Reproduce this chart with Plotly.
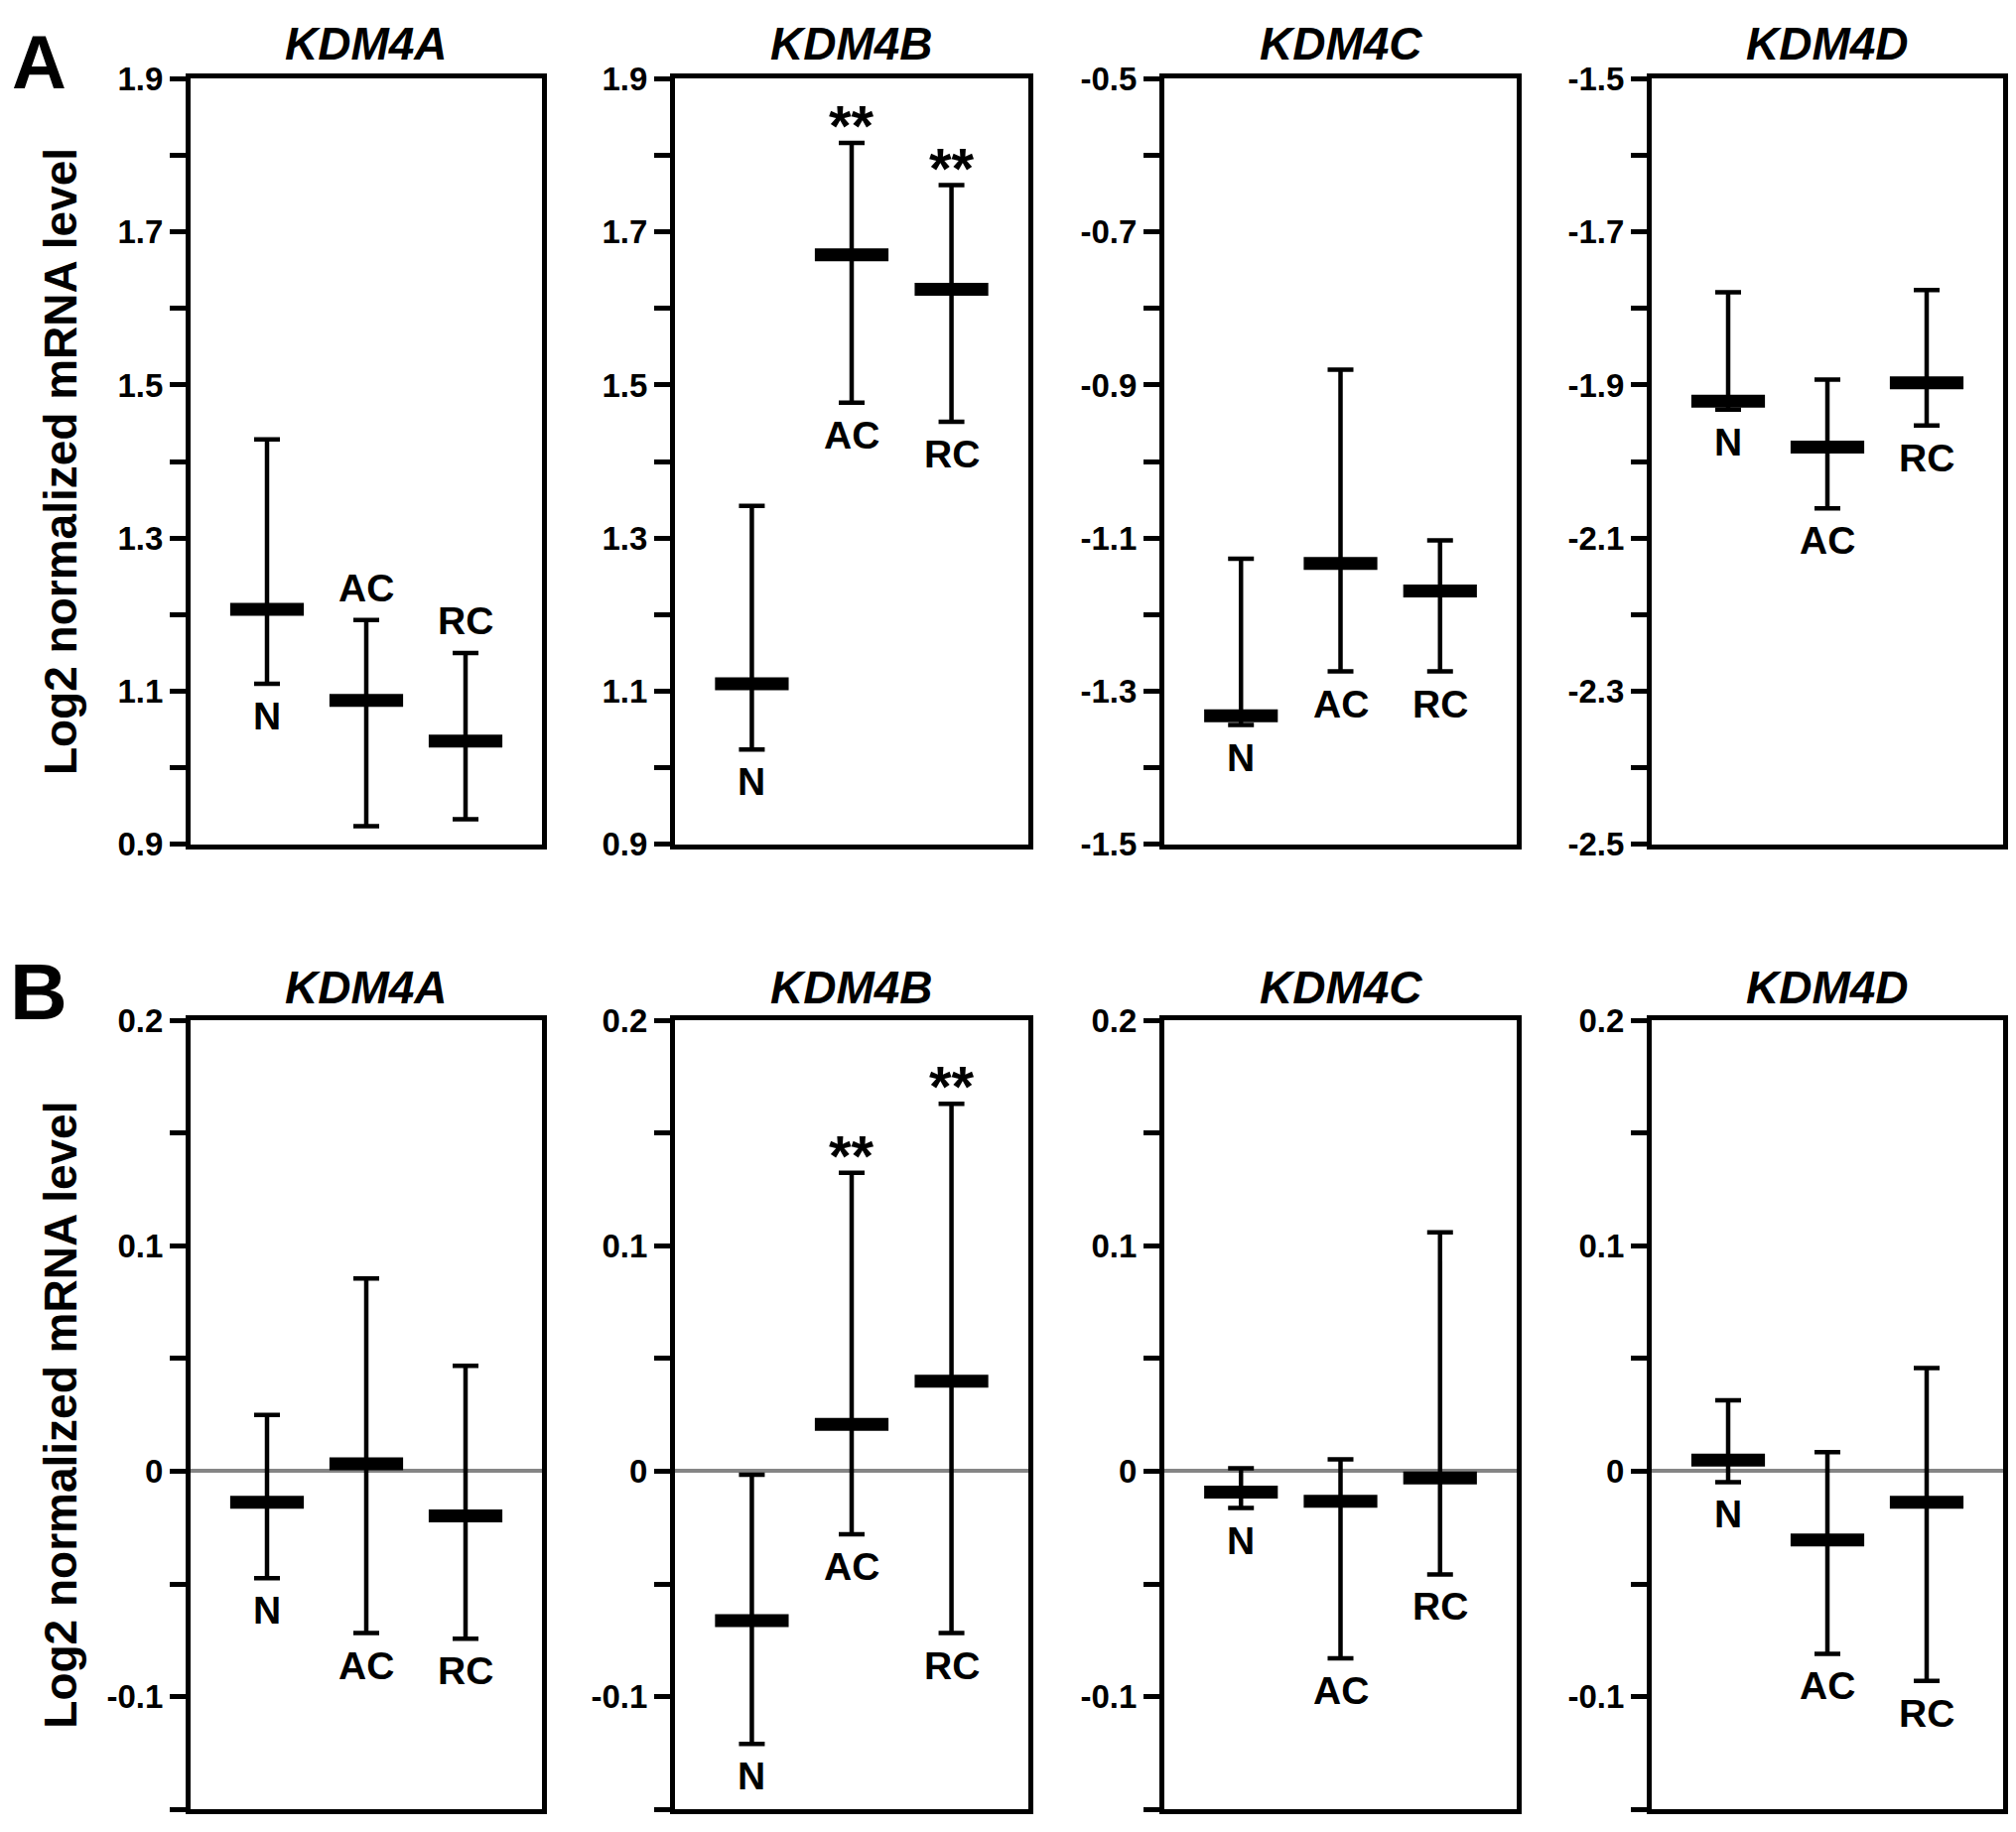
import plotly.graph_objects as go

# ---------------- data ----------------
genes = ["KDM4A", "KDM4B", "KDM4C", "KDM4D"]
groups = ["N", "AC", "RC"]

# Panel A (top row)
a_mean = [[1.207, 1.088, 1.035], [1.110, 1.670, 1.625], [-1.332, -1.133, -1.169], [-1.921, -1.981, -1.897]]
a_upper = [[1.429, 1.193, 1.150], [1.342, 1.816, 1.761], [-1.127, -0.880, -1.103], [-1.779, -1.893, -1.776]]
a_lower = [[1.110, 0.924, 0.933], [1.024, 1.477, 1.452], [-1.344, -1.274, -1.274], [-1.932, -2.061, -1.953]]
a_ranges = [[0.9, 1.9], [0.9, 1.9], [-1.5, -0.5], [-2.5, -1.5]]
a_tickvals = [[round(lo + 0.1 * i, 2) for i in range(11)] for lo, hi in a_ranges]
a_label_side = [["below", "above", "above"], ["below", "below", "below"],
                ["below", "below", "below"], ["below", "below", "below"]]
a_sig = [["", "", ""], ["", "**", "**"], ["", "", ""], ["", "", ""]]

# Panel B (bottom row)
b_mean = [[-0.0138, 0.0033, -0.0198], [-0.0663, 0.0208, 0.0400], [-0.0093, -0.0133, -0.0030], [0.0050, -0.0305, -0.0138]]
b_upper = [[0.0250, 0.0855, 0.0468], [-0.0015, 0.1325, 0.1630], [0.0013, 0.0053, 0.1060], [0.0315, 0.0085, 0.0458]]
b_lower = [[-0.0475, -0.0718, -0.0743], [-0.1210, -0.0280, -0.0718], [-0.0163, -0.0830, -0.0458], [-0.0048, -0.0810, -0.0930]]
b_ranges = [[-0.15, 0.2]] * 4
b_tickvals = [[-0.15, -0.1, -0.05, 0, 0.05, 0.1, 0.15, 0.2]] * 4
b_ticktext = [["", "-0.1", "", "0", "", "0.1", "", "0.2"]] * 4
b_label_side = [["below"] * 3] * 4
b_sig = [["", "", ""], ["", "**", "**"], ["", "", ""], ["", "", ""]]

a_ticktext = [[f"{v:.1f}" if i % 2 == 0 else "" for i, v in enumerate(tv)] for tv in a_tickvals]

rows = [
    dict(mean=a_mean, upper=a_upper, lower=a_lower, ranges=a_ranges, tv=a_tickvals, tt=a_ticktext,
         side=a_label_side, sig=a_sig, zero=False),
    dict(mean=b_mean, upper=b_upper, lower=b_lower, ranges=b_ranges, tv=b_tickvals, tt=b_ticktext,
         side=b_label_side, sig=b_sig, zero=True),
]

# ---------------- layout ----------------
W, H = 2031, 1846
FONT = "Liberation Sans, Arial, Helvetica, sans-serif"


def yc(px):
    # vertical page-position correction for the capture
    return (px - 17.5) / 0.983


xdom_px = [(192, 546), (680, 1036), (1173, 1528), (1664, 2018)]
ydom_px = [(yc(79), yc(853)), (yc(1031), 1842)]
title_y_px = [yc(44), yc(998)]
letters = ["A", "B"]

fig = go.Figure()
annotations = []
layout = dict(width=W, height=H, margin=dict(l=0, r=0, t=0, b=0),
              plot_bgcolor="white", paper_bgcolor="white", showlegend=False,
              font=dict(family=FONT, color="black"))

for r, row in enumerate(rows):
    for c in range(4):
        k = r * 4 + c + 1
        xa = "x" if k == 1 else f"x{k}"
        ya = "y" if k == 1 else f"y{k}"
        mean = row["mean"][c]
        up = row["upper"][c]
        lo = row["lower"][c]
        xs = list(range(len(groups)))
        fig.add_trace(go.Scatter(
            x=xs, y=mean, mode="markers", xaxis=xa, yaxis=ya, showlegend=False,
            cliponaxis=False,
            marker=dict(symbol="line-ew", size=53, color="black",
                        line=dict(width=13, color="black")),
            error_y=dict(type="data", symmetric=False,
                         array=[u - m for u, m in zip(up, mean)],
                         arrayminus=[m - l for m, l in zip(mean, lo)],
                         color="black", thickness=4.5, width=13),
        ))
        x0, x1 = xdom_px[c]
        y0, y1 = ydom_px[r]
        layout[f"xaxis{'' if k == 1 else k}"] = dict(
            domain=[x0 / W, x1 / W], range=[-0.77, 2.77], anchor=ya,
            showline=True, mirror=True, linewidth=5, linecolor="black",
            showticklabels=False, ticks="", showgrid=False, zeroline=False, fixedrange=True)
        layout[f"yaxis{'' if k == 1 else k}"] = dict(
            domain=[1 - y1 / H, 1 - y0 / H], range=row["ranges"][c], anchor=xa,
            showline=True, mirror=True, linewidth=5, linecolor="black",
            tickmode="array", tickvals=row["tv"][c], ticktext=row["tt"][c],
            ticks="outside", ticklen=16, tickwidth=5, tickcolor="black",
            tickfont=dict(family=FONT, size=33, color="black", weight="bold"),
            showgrid=False, zeroline=row["zero"], zerolinecolor="#858585", zerolinewidth=3.5,
            fixedrange=True)
        # group labels
        for i, g in enumerate(groups):
            side = row["side"][c][i]
            annotations.append(dict(
                x=i, y=lo[i] if side == "below" else up[i], xref=xa, yref=ya,
                text=g, showarrow=False,
                yanchor="top" if side == "below" else "bottom",
                yshift=-9 if side == "below" else 9,
                font=dict(family=FONT, size=39, color="black", weight="bold")))
            s = row["sig"][c][i]
            if s:
                annotations.append(dict(
                    x=i, y=up[i], xref=xa, yref=ya, text=s, showarrow=False,
                    yanchor="bottom", yshift=-17,
                    font=dict(family=FONT, size=58, color="black", weight="bold")))
        # gene title
        annotations.append(dict(
            x=(x0 + x1) / 2 / W, y=1 - title_y_px[r] / H, xref="paper", yref="paper",
            text=genes[c], showarrow=False, xanchor="center", yanchor="middle",
            font=dict(family=FONT, size=46, color="black", weight="bold", style="italic")))
    # y-axis title
    y0, y1 = ydom_px[r]
    annotations.append(dict(
        x=61 / W, y=1 - (y0 + y1) / 2 / H, xref="paper", yref="paper",
        text="Log2 normalized mRNA level", textangle=-90, showarrow=False,
        xanchor="center", yanchor="middle",
        font=dict(family=FONT, size=46, color="black", weight="bold")))

# panel letters
annotations.append(dict(
    x=39 / W, y=1, xref="paper", yref="paper", text=letters[0], showarrow=False,
    xanchor="center", yanchor="top",
    font=dict(family=FONT, size=76, color="black", weight="bold")))
annotations.append(dict(
    x=39 / W, y=1 - yc(1002) / H, xref="paper", yref="paper", text=letters[1], showarrow=False,
    xanchor="center", yanchor="middle",
    font=dict(family=FONT, size=80, color="black", weight="bold")))

layout["annotations"] = annotations
fig.update_layout(**layout)

fig.write_html(
    "out.html",
    config={"displayModeBar": False},
    post_script=("document.documentElement.style.margin='0';"
                 "document.body.style.margin='0';"
                 "document.body.style.padding='0';"
                 "document.documentElement.style.overflow='hidden';"
                 "document.body.style.overflow='hidden';"),
)
